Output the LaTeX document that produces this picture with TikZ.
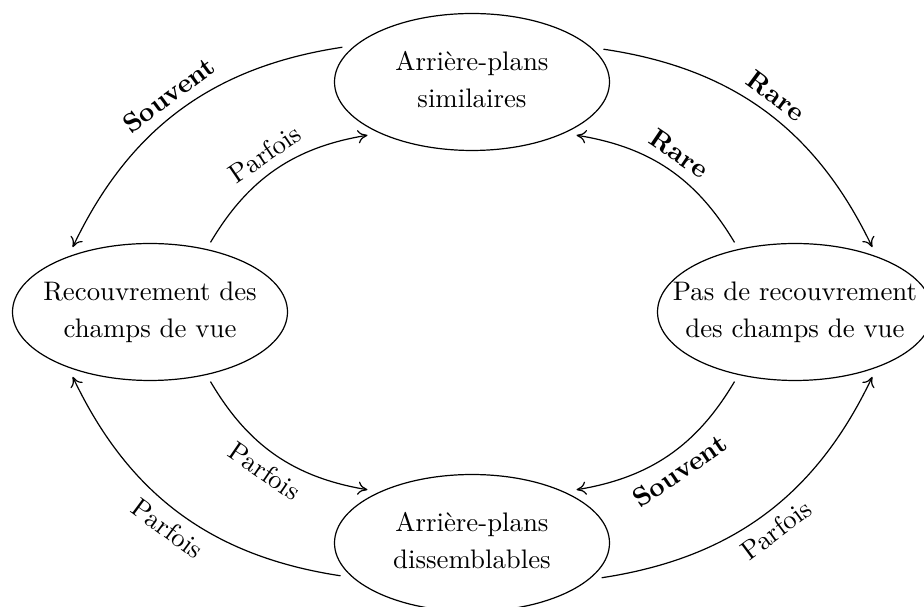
\documentclass[tikz,border=0pt]{standalone}
\usetikzlibrary{shapes.geometric,arrows.meta}
\renewcommand{\arraystretch}{1.15}
\newcommand{\ctext}[1]{\makebox[0pt]{\begin{tabular}{@{}c@{}}#1\end{tabular}}}
\begin{document}
\begin{tikzpicture}[x=0.3731pt,y=0.3731pt,
  ell/.style={ellipse,draw,line width=0.45pt,minimum width=102.6pt,minimum height=51.1pt,inner sep=0pt,outer sep=3pt},
  conn/.style={-{Computer Modern Rightarrow[length=3.6pt,width=5pt]},line width=0.45pt},
  lab/.style={midway,sloped}]
\useasboundingbox (0,0) rectangle (924,607);
\node[ell] (top) at (472,525) {\ctext{Arrière-plans\\similaires}};
\node[ell] (left) at (150,295) {\ctext{Recouvrement des\\champs de vue}};
\node[ell] (right) at (795,295) {\ctext{Pas de recouvrement\\des champs de vue}};
\node[ell] (bottom) at (472,64) {\ctext{Arrière-plans\\dissemblables}};
% top-left
\draw[conn] (top.165.5) to[bend right=28] node[lab,above]{\textbf{Souvent}} (left.140);
\draw[conn] (left.49) to[bend left=25] node[lab,above]{Parfois} (top.207);
% top-right
\draw[conn] (top.14.5) to[bend left=28] node[lab,above]{\textbf{Rare}} (right.40);
\draw[conn] (right.131) to[bend right=25] node[lab,above]{\textbf{Rare}} (top.333);
% bottom-left
\draw[conn] (left.311) to[bend right=25] node[lab,below]{Parfois} (bottom.153);
\draw[conn] (bottom.194.5) to[bend left=28] node[lab,below]{Parfois} (left.220);
% bottom-right
\draw[conn] (right.229) to[bend left=25] node[lab,below]{\textbf{Souvent}} (bottom.27);
\draw[conn] (bottom.345.5) to[bend right=28] node[lab,below]{Parfois} (right.320);
\end{tikzpicture}
\end{document}
